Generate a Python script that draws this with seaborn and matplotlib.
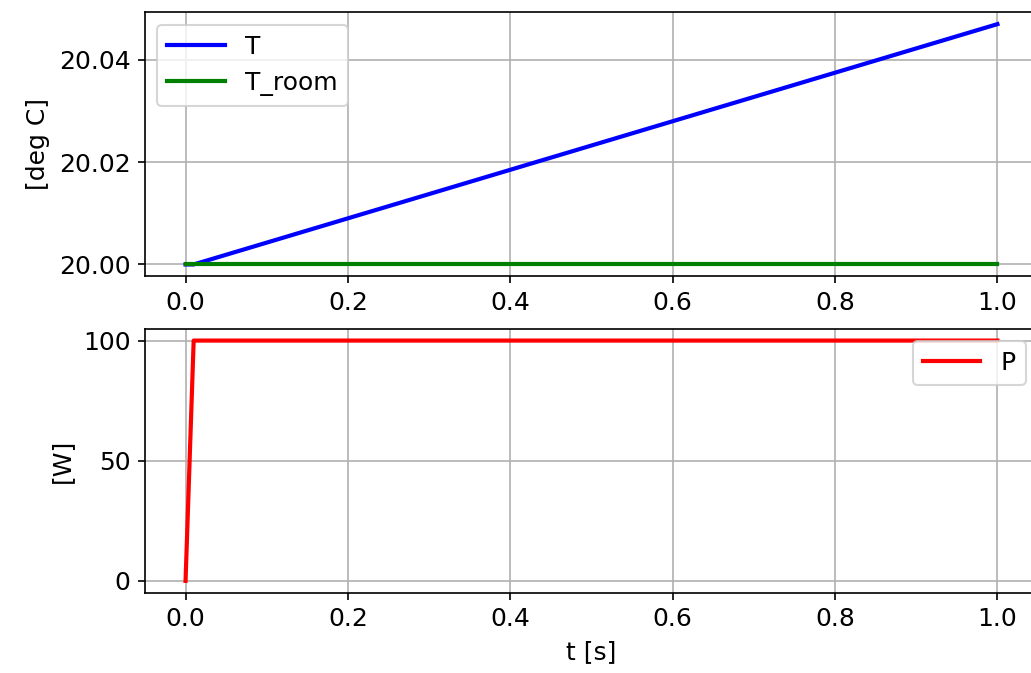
import matplotlib
matplotlib.use("Agg")
import matplotlib.pyplot as plt
import seaborn as sns
import pandas as pd

t = [0.0, 0.01, 1.0]
T = [20.0, 20.0, 20.047]
T_room = [20.0, 20.0, 20.0]
P = [0.0, 100.0, 100.0]

df = pd.DataFrame({"t": t, "T": T, "T_room": T_room, "P": P})

plt.rcParams["font.size"] = 12
plt.rcParams["lines.linewidth"] = 2
plt.rcParams["legend.handlelength"] = 2.3

fig, (ax1, ax2) = plt.subplots(2, 1, figsize=(1031 / 150, 673 / 150), dpi=150)
# the original image is cut off on the right, so the axes run past the edge
fig.subplots_adjust(left=0.1406, right=1.0068, top=0.982, bottom=0.119, hspace=0.197)

sns.lineplot(data=df, x="t", y="T", color="blue", label="T", ax=ax1)
sns.lineplot(data=df, x="t", y="T_room", color="green", label="T_room", ax=ax1)
ax1.set_ylabel("[deg C]")
ax1.set_xlabel("")
ax1.set_yticks([20.00, 20.02, 20.04])
ax1.set_yticklabels(["20.00", "20.02", "20.04"])
ax1.grid(True)
ax1.legend(loc="upper left")

sns.lineplot(data=df, x="t", y="P", color="red", label="P", ax=ax2)
ax2.set_ylabel("[W]")
ax2.set_xlabel("t [s]")
ax2.set_yticks([0, 50, 100])
ax2.grid(True)
ax2.legend(loc="upper right")

fig.savefig("out.png", dpi=150)
